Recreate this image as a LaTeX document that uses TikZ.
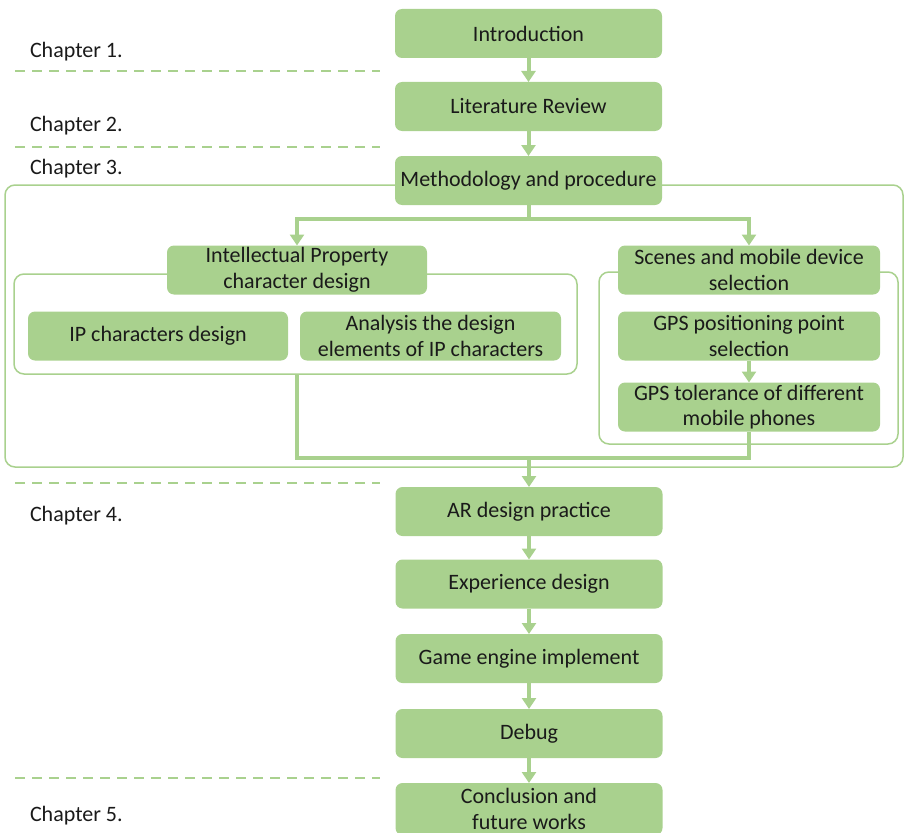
\documentclass[tikz,border=0pt]{standalone}
\usepackage{fontspec}
\setmainfont{Carlito}
\usetikzlibrary{arrows.meta}
\definecolor{leaf}{HTML}{A9D18E}
\definecolor{ink}{HTML}{1A1A1A}
\begin{document}
\begin{tikzpicture}[x=1pt,y=-1pt,
  every node/.style={inner sep=0pt, outer sep=0pt},
  txt/.style={font=\fontsize{22}{25.5}\selectfont, text=ink},
  stepbox/.style={txt, fill=leaf, rounded corners=7pt, align=center, minimum height=49pt},
  mainbox/.style={stepbox, minimum width=267pt},
  subbox/.style={stepbox, minimum width=261pt},
  grp/.style={draw=leaf, line width=1.5pt, rounded corners=10pt},
  chap/.style={txt, anchor=west},
  divider/.style={draw=leaf, line width=2.5pt, dash pattern=on 10pt off 7pt},
  flow/.style={draw=leaf, line width=4pt, -{Triangle[width=14pt,length=11pt]}},
  trunk/.style={draw=leaf, line width=4pt}
]
\useasboundingbox (0,0) rectangle (904,832);
\clip (0,0) rectangle (904,832);

% group frames (drawn first so the boxes cover them)
\node[grp, minimum width=898pt, minimum height=282pt] (ch3grp) at (454,326) {};
\node[grp, minimum width=563pt, minimum height=100pt] (ipgrp) at (295.5,324) {};
\node[grp, minimum width=299pt, minimum height=172pt] (scgrp) at (748.5,358) {};

% chapter dividers
\coordinate (d1a) at (15,71);  \coordinate (d1b) at (380,71);
\coordinate (d2a) at (15,147); \coordinate (d2b) at (380,147);
\coordinate (d3a) at (15,483); \coordinate (d3b) at (380,483);
\coordinate (d4a) at (15,778); \coordinate (d4b) at (380,778);
\draw[divider] (d1a) -- (d1b);
\draw[divider] (d2a) -- (d2b);
\draw[divider] (d3a) -- (d3b);
\draw[divider] (d4a) -- (d4b);

% chapter labels
\node[chap] (c1) at (30,52) {Chapter 1.};
\node[chap] (c2) at (30,126) {Chapter 2.};
\node[chap] (c3) at (30,169) {Chapter 3.};
\node[chap] (c4) at (30,516) {Chapter 4.};
\node[chap] (c5) at (30,816) {Chapter 5.};

% main column
\node[mainbox] (intro) at (528.5,33.5) {Introduction};
\node[mainbox] (lit) at (528.5,106.5) {Literature Review};
\node[mainbox] (meth) at (528.5,180.5) {Methodology and procedure};
\node[mainbox] (ar) at (529,511.5) {AR design practice};
\node[mainbox] (exp) at (529,584) {Experience design};
\node[mainbox] (eng) at (529,658.5) {Game engine implement};
\node[mainbox] (dbg) at (529,733.5) {Debug};
\node[mainbox, minimum height=52pt] (concl) at (529,809) {Conclusion and\\future works};

% chapter 3 branches
\node[subbox, minimum width=260pt] (ip) at (297,270) {Intellectual Property\\character design};
\node[subbox, minimum width=260pt] (ipc) at (158,336) {IP characters design};
\node[subbox] (ana) at (430.5,336) {Analysis the design\\elements of IP characters};
\node[subbox, minimum width=262pt] (scene) at (749,270) {Scenes and mobile device\\selection};
\node[subbox, minimum width=262pt] (gpsp) at (749,336) {GPS positioning point\\selection};
\node[subbox, minimum width=262pt] (gpst) at (749,407) {GPS tolerance of different\\mobile phones};

% connectors
\draw[flow] (intro) -- (lit);
\draw[flow] (lit) -- (meth);
\coordinate (split) at (528.5,219);
\draw[trunk] (meth.south) -- (split);
\draw[flow] (split) -| (ip.north);
\draw[flow] (split) -| (scene.north);
\draw[flow] (gpsp) -- (gpst);
\coordinate (merge) at (529,458);
\draw[trunk] (ip.south |- ipgrp.south) |- (merge) -| (gpst.south);
\draw[flow] (merge) -- (ar.north);
\draw[flow] (ar) -- (exp);
\draw[flow] (exp) -- (eng);
\draw[flow] (eng) -- (dbg);
\draw[flow] (dbg) -- (concl);
\end{tikzpicture}
\end{document}
